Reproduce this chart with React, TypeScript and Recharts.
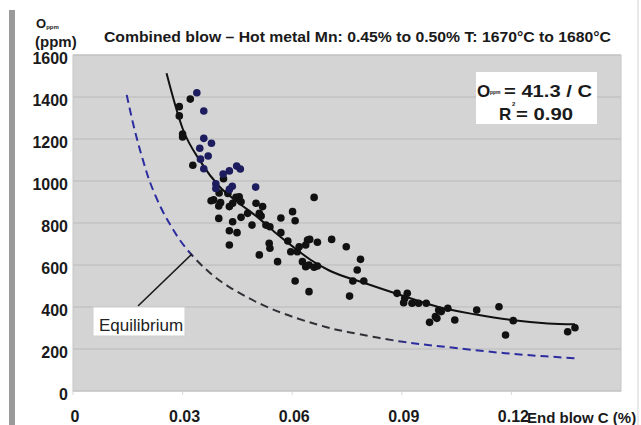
import React from 'react';
import { ComposedChart, XAxis, YAxis, CartesianGrid, Line, Scatter } from 'recharts';

const FONT = '"Liberation Sans", Arial, sans-serif';

const xTicks = [0, 0.03, 0.06, 0.09, 0.12];
const yTicks = [0, 200, 400, 600, 800, 1000, 1200, 1400, 1600];

// measured points (navy-coloured cluster)
const navyC = [0.0339, 0.0358, 0.0358, 0.0379, 0.0347, 0.037, 0.0349, 0.0358, 0.0448, 0.0458, 0.0428, 0.0411, 0.0391, 0.0391, 0.0436, 0.0428, 0.05];
const navyO = [1420, 1333, 1203, 1180, 1156, 1119, 1104, 1058, 1071, 1057, 1048, 1033, 987, 964, 975, 960, 971];

// measured points (black)
const blackC = [
  0.0321, 0.0291, 0.0291, 0.03, 0.03, 0.0328, 0.0412, 0.04, 0.0424, 0.0455, 0.0446, 0.0385, 0.0378, 0.0404, 0.0437,
  0.046, 0.0501, 0.0519, 0.066, 0.0399, 0.0428, 0.051, 0.0515, 0.0478, 0.0399, 0.046, 0.0437, 0.049, 0.0528, 0.0539,
  0.0569, 0.0601, 0.0608, 0.0428, 0.0449, 0.0569, 0.0428, 0.0537, 0.0539, 0.0588, 0.0642, 0.0669, 0.0637, 0.0648,
  0.0708, 0.0748, 0.051, 0.056, 0.0596, 0.0614, 0.0619, 0.0628, 0.0637, 0.0646, 0.066, 0.0669, 0.0608, 0.0646,
  0.0787, 0.0778, 0.0766, 0.0796, 0.0757, 0.0887, 0.0915, 0.0908, 0.0905, 0.0928, 0.0946, 0.0967, 0.1001, 0.1008,
  0.1026, 0.0992, 0.0996, 0.0976, 0.1045, 0.1105, 0.1166, 0.1205, 0.1184, 0.1354, 0.1374,
];
const blackO = [
  1390, 1354, 1310, 1224, 1210, 1075, 1011, 943, 941, 925, 922, 910, 906, 897, 894,
  901, 894, 878, 922, 881, 878, 846, 833, 846, 822, 827, 806, 790, 790, 782,
  824, 854, 811, 763, 754, 754, 695, 703, 680, 714, 719, 708, 695, 722,
  722, 687, 648, 616, 663, 663, 687, 616, 592, 600, 589, 595, 524, 473,
  627, 576, 524, 524, 452, 465, 465, 441, 420, 418, 418, 418, 386, 378,
  394, 354, 346, 327, 338, 386, 401, 335, 267, 282, 301,
];

// fitted trend line O = 41.3 / C
const fitC = [0.0256, 0.03, 0.035, 0.04, 0.045, 0.05, 0.055, 0.06, 0.065, 0.07, 0.08, 0.09, 0.1, 0.11, 0.12, 0.13, 0.1374];
const fitO = [1513, 1250, 1090, 975, 900, 835, 760, 690, 625, 575, 513, 455, 400, 365, 338, 322, 318];

// equilibrium curve
const eqC = [0.0147, 0.0165, 0.0183, 0.02, 0.0215, 0.024, 0.0265, 0.029, 0.0324, 0.037, 0.0428, 0.0519, 0.0615, 0.0692, 0.0755, 0.0892, 0.101, 0.1183, 0.1374];
const eqO = [1410, 1270, 1150, 1050, 975, 875, 795, 725, 650, 570, 495, 410, 345, 305, 280, 237, 212, 180, 156];

const zip = (cs: number[], os: number[]) => cs.map((c, i) => ({ c, o: os[i] }));
const navyPts = zip(navyC, navyO);
const blackPts = zip(blackC, blackO);
const fitPts = zip(fitC, fitO);
const eqPts = zip(eqC, eqO);

const dot = (color: string) => (p: any) => <circle cx={p.cx} cy={p.cy} r={3.8} fill={color} />;

const tickStyle = { fontSize: 16, fontWeight: 'bold', fill: '#1a1a1a', fontFamily: FONT };

export default function App() {
  return (
    <div style={{ position: 'absolute', left: 0, top: 0, width: 641, height: 425, background: '#fff', overflow: 'hidden' }}>
      <ComposedChart width={641} height={425} margin={{ top: 55, right: 20, left: 13, bottom: 0 }}>
        <defs>
          <linearGradient id="eqGrad" x1="0" y1="0" x2="1" y2="0">
            <stop offset="0" stopColor="#2c2ca0" />
            <stop offset="0.13" stopColor="#2c2ca0" />
            <stop offset="0.16" stopColor="#303036" />
            <stop offset="0.58" stopColor="#303036" />
            <stop offset="0.63" stopColor="#2c2ca0" />
            <stop offset="1" stopColor="#2c2ca0" />
          </linearGradient>
        </defs>
        <CartesianGrid vertical={false} fill="#d4d4d4" stroke="#bababa" strokeWidth={1.2} />
        <XAxis
          type="number"
          dataKey="c"
          domain={[0, 0.15]}
          ticks={xTicks}
          allowDataOverflow
          height={34}
          axisLine={false}
          tickLine={{ stroke: '#d8d8d8' }}
          tickSize={4}
          tickMargin={16}
          tick={{ ...tickStyle, dx: 2 }}
          tickFormatter={(v: number) => (v === 0 ? '0' : v.toFixed(2))}
          interval={0}
        />
        <YAxis
          type="number"
          domain={[0, 1600]}
          ticks={yTicks}
          width={60}
          axisLine={false}
          tickLine={false}
          tickSize={0}
          tickMargin={5}
          tick={{ ...tickStyle, dy: 3 }}
          interval={0}
        />
        <Line data={eqPts} dataKey="o" type="natural" stroke="url(#eqGrad)" strokeWidth={2} strokeDasharray="8 5" dot={false} isAnimationActive={false} />
        <Scatter data={blackPts} dataKey="o" shape={dot('#111111')} isAnimationActive={false} />
        <Scatter data={navyPts} dataKey="o" shape={dot('#1c1c5e')} isAnimationActive={false} />
        <Line data={fitPts} dataKey="o" type="monotone" stroke="#111111" strokeWidth={2} dot={false} isAnimationActive={false} />
      </ComposedChart>
      <svg width={641} height={425} style={{ position: 'absolute', left: 0, top: 0, pointerEvents: 'none' }} fontFamily={FONT}>
        <rect x={9} y={10} width={6} height={415} fill="#9a9a9a" />
        <line x1={638} y1={0} x2={638} y2={425} stroke="#e2e2e2" strokeWidth={1.5} />
        <rect x={73} y={55} width={548} height={336} fill="none" stroke="#c6c6c6" />
        <text x={104} y={42} fontSize={15} fontWeight="bold" fill="#1a1a1a" textLength={507} lengthAdjust="spacingAndGlyphs">
          Combined blow – Hot metal Mn: 0.45% to 0.50% T: 1670°C to 1680°C
        </text>
        <text x={36} y={28} fontSize={13} fontWeight="bold" fill="#1a1a1a">O<tspan fontSize={6} dy={1}>ppm</tspan></text>
        <text x={35} y={47} fontSize={15} fontWeight="bold" fill="#1a1a1a">(ppm)</text>
        <text x={527} y={423} fontSize={15} fontWeight="bold" fill="#1a1a1a">End blow C (%)</text>
        <rect x={476} y={72} width={121} height={52} fill="#ffffff" />
        <text x={477} y={97} fontSize={17} fontWeight="bold" fill="#1a1a1a">O</text>
        <text x={490} y={94} fontSize={5} fontWeight="bold" fill="#1a1a1a">ppm</text>
        <text x={504} y={97} fontSize={17} fontWeight="bold" fill="#1a1a1a" textLength={88} lengthAdjust="spacingAndGlyphs">= 41.3 / C</text>
        <text x={499} y={120} fontSize={17} fontWeight="bold" fill="#1a1a1a">R</text>
        <text x={512} y={106} fontSize={6} fontWeight="bold" fill="#1a1a1a">2</text>
        <text x={516} y={120} fontSize={17} fontWeight="bold" fill="#1a1a1a" textLength={57} lengthAdjust="spacingAndGlyphs">= 0.90</text>
        <line x1={138} y1={306} x2={192} y2={254} stroke="#1a1a1a" strokeWidth={1.6} />
        <rect x={93} y={307} width={92} height={29} fill="#ffffff" stroke="#cfcfcf" />
        <text x={99} y={331} fontSize={17} fill="#222">Equilibrium</text>
      </svg>
    </div>
  );
}
